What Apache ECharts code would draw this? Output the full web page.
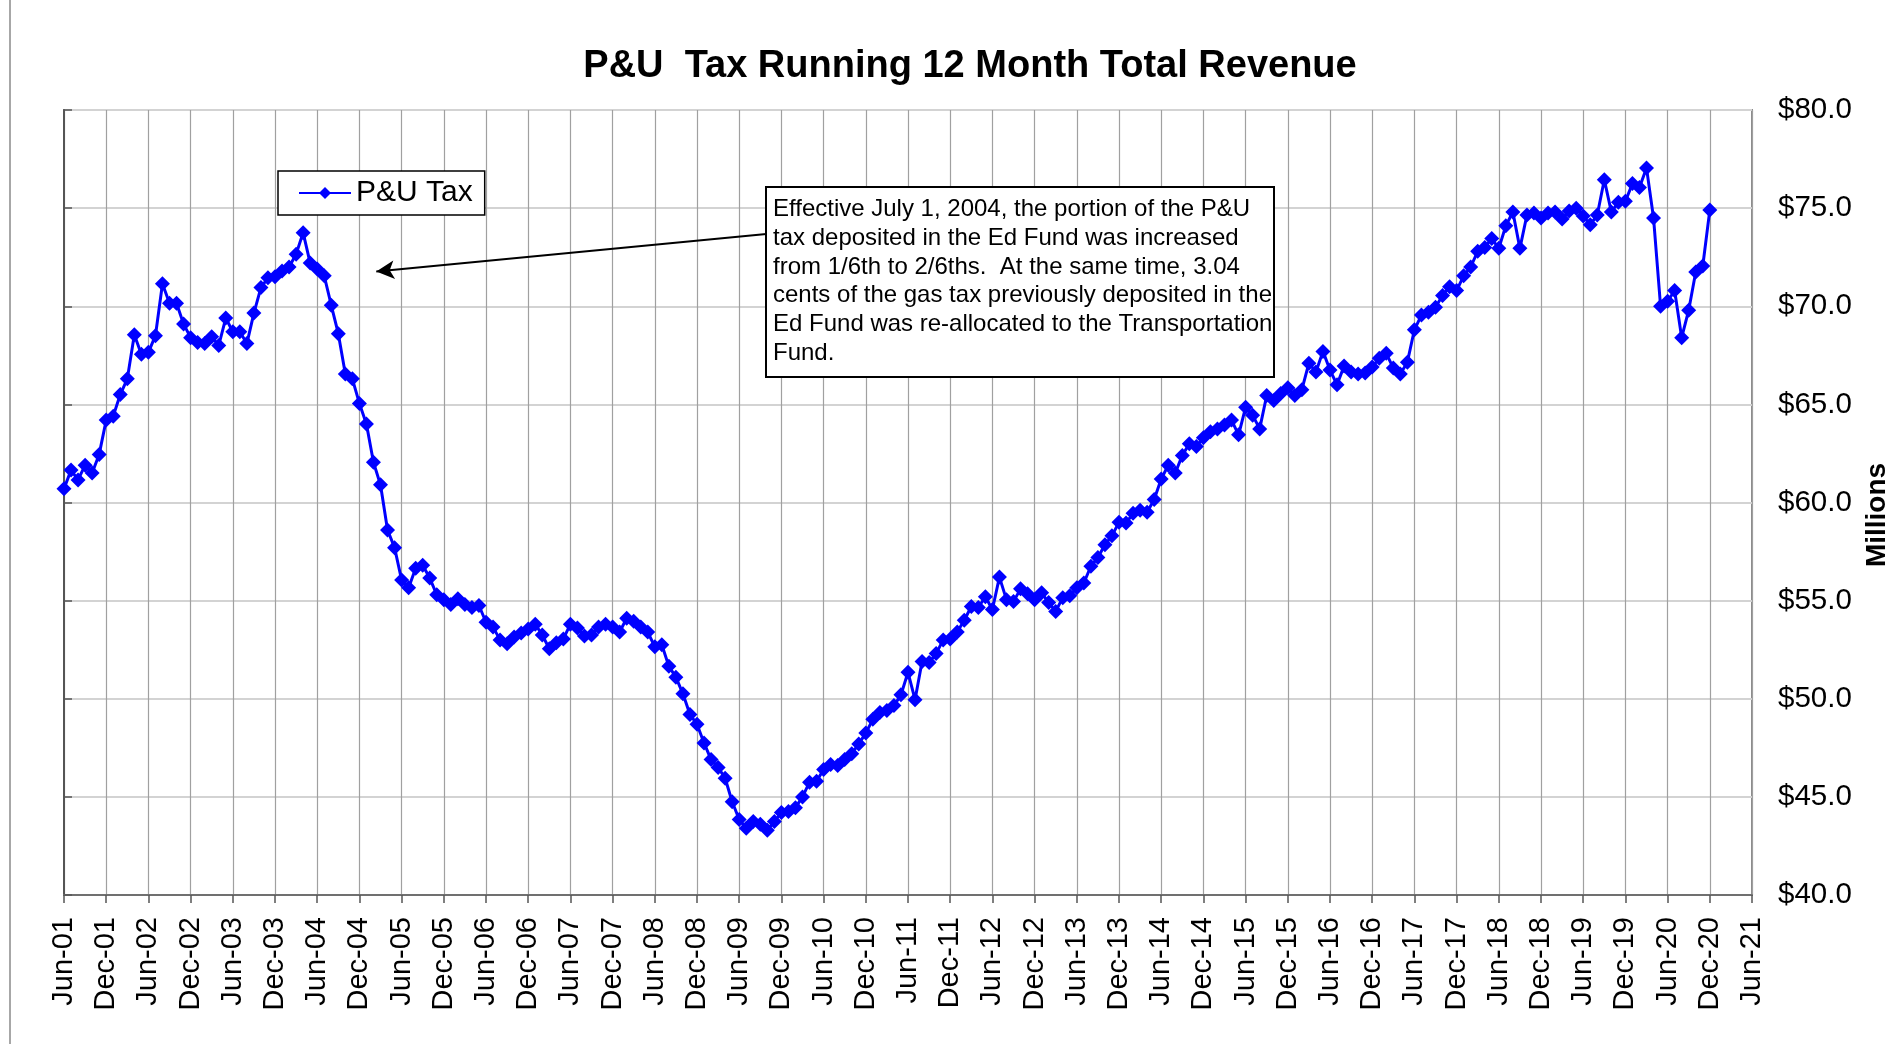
<!DOCTYPE html>
<html>
<head>
<meta charset="utf-8">
<title>P&U Tax Running 12 Month Total Revenue</title>
<script src="https://cdn.jsdelivr.net/npm/echarts@6/dist/echarts.min.js"></script>
<style>
  html, body { margin: 0; padding: 0; background: #fff; }
  #echart { width: 1900px; height: 1044px; }
</style>
</head>
<body>
<div id="echart"></div>
<script>
// tick labels, one every 6 months starting Jun-01
let xTickLabels = [
  'Jun-01','Dec-01','Jun-02','Dec-02','Jun-03','Dec-03','Jun-04','Dec-04',
  'Jun-05','Dec-05','Jun-06','Dec-06','Jun-07','Dec-07','Jun-08','Dec-08',
  'Jun-09','Dec-09','Jun-10','Dec-10','Jun-11','Dec-11','Jun-12','Dec-12',
  'Jun-13','Dec-13','Jun-14','Dec-14','Jun-15','Dec-15','Jun-16','Dec-16',
  'Jun-17','Dec-17','Jun-18','Dec-18','Jun-19','Dec-19','Jun-20','Dec-20','Jun-21'
];

// running 12 month total, $ millions, monthly from Jun-01 to Dec-20
let revenue = [
  60.7, 61.65, 61.15, 61.9, 61.5, 62.45, 64.2, 64.4, 65.5, 66.3, 68.55, 67.55,   // Jun01-May02
  67.65, 68.5, 71.15, 70.15, 70.15, 69.1, 68.4, 68.15, 68.1, 68.45, 68.0, 69.4, // Jun02-May03
  68.7, 68.7, 68.1, 69.65, 70.95, 71.45, 71.5, 71.8, 72.0, 72.65, 73.75, 72.2,  // Jun03-May04
  71.9, 71.55, 70.05, 68.6, 66.55, 66.3, 65.05, 64.0, 62.05, 60.9, 58.6, 57.7,  // Jun04-May05
  56.05, 55.65, 56.65, 56.8, 56.15, 55.3, 55.05, 54.8, 55.1, 54.8, 54.65, 54.75,
  53.9, 53.65, 53.0, 52.8, 53.15, 53.35, 53.55, 53.8, 53.25, 52.55, 52.85, 53.05,
  53.8, 53.6, 53.2, 53.25, 53.65, 53.8, 53.65, 53.4, 54.1, 53.95, 53.65, 53.4,
  52.65, 52.75, 51.65, 51.1, 50.25, 49.2, 48.7, 47.75, 46.9, 46.5, 45.95, 44.75,
  43.85, 43.4, 43.75, 43.6, 43.3, 43.75, 44.2, 44.25, 44.45, 45.0, 45.75, 45.8,
  46.4, 46.65, 46.6, 46.9, 47.2, 47.7, 48.25, 48.95, 49.3, 49.4, 49.65, 50.2,
  51.35, 49.95, 51.9, 51.85, 52.3, 53.0, 53.05, 53.4, 54.0, 54.7, 54.65, 55.2,
  54.55, 56.2, 55.05, 54.95, 55.6, 55.35, 55.05, 55.4, 54.9, 54.45, 55.15, 55.25,
  55.65, 55.9, 56.75, 57.2, 57.85, 58.3, 59.0, 58.95, 59.45, 59.6, 59.5, 60.15,
  61.2, 61.9, 61.5, 62.4, 63.0, 62.85, 63.3, 63.6, 63.75, 63.95, 64.2, 63.45,
  64.85, 64.45, 63.75, 65.45, 65.2, 65.55, 65.85, 65.45, 65.75, 67.1, 66.65, 67.7,
  66.75, 66.0, 66.95, 66.65, 66.55, 66.6, 66.9, 67.35, 67.6, 66.85, 66.55, 67.15,
  68.8, 69.55, 69.7, 69.95, 70.55, 71.0, 70.8, 71.55, 72.0, 72.8, 73.0, 73.45,
  72.95, 74.1, 74.8, 72.95, 74.65, 74.75, 74.5, 74.75, 74.8, 74.45, 74.85, 75.0,
  74.6, 74.15, 74.65, 76.45, 74.8, 75.3, 75.35, 76.25, 76.05, 77.05, 74.5, 70.0,
  70.25, 70.8, 68.4, 69.8, 71.75, 72.05, 74.9                                   // Jun20-Dec20
];

let noteLines = [
  'Effective July 1, 2004, the portion of the P&U',
  'tax deposited in the Ed Fund was increased',
  'from 1/6th to 2/6ths.  At the same time, 3.04',
  'cents of the gas tax previously deposited in the',
  'Ed Fund was re-allocated to the Transportation',
  'Fund.'
];

// arrow from the note box to the Jul-04 drop (month index, $M)
let arrowFrom = [99.86, 73.68];
let arrowTo = [44.4, 71.77];

let FONT = '"Liberation Sans", Arial, sans-serif';

let seriesData = revenue.map(function (v, i) { return [i, v]; });

let option = {
  backgroundColor: '#fff',
  animation: false,
  grid: {
    left: 64, right: 148, top: 110, bottom: 149,
    show: true, borderColor: '#8c8c8c', borderWidth: 2,
    containLabel: false, outerBoundsMode: 'none'
  },
  legend: {
    left: 278, top: 171,
    padding: [7, 12, 7, 20],
    itemWidth: 52, itemHeight: 15, itemGap: 6,
    backgroundColor: '#fff',
    borderColor: '#000', borderWidth: 1.5,
    textStyle: { fontFamily: FONT, fontSize: 30, color: '#000' },
    data: ['P&U Tax']
  },
  xAxis: {
    type: 'value',
    min: 0, max: 240, interval: 6,
    axisLine: { show: true, lineStyle: { color: '#707070', width: 2 } },
    axisTick: { show: true, inside: false, length: 8, lineStyle: { color: '#555', width: 1.5 } },
    axisLabel: {
      rotate: 90, margin: 22,
      fontFamily: FONT, fontSize: 29, color: '#000',
      formatter: function (v) { return xTickLabels[Math.round(v / 6)] || ''; }
    },
    splitLine: { show: true, lineStyle: { color: '#a0a0a0', width: 1.2 } }
  },
  yAxis: {
    type: 'value',
    position: 'right',
    min: 40, max: 80, interval: 5,
    axisLine: { show: true, lineStyle: { color: '#555', width: 2 } },
    axisTick: { show: true, inside: false, length: 8, lineStyle: { color: '#555', width: 1.5 } },
    axisLabel: {
      margin: 26,
      fontFamily: FONT, fontSize: 29.5, color: '#000',
      formatter: function (v) { return '$' + v.toFixed(1); }
    },
    splitLine: { show: true, lineStyle: { color: '#d3d3d3', width: 2 } }
  },
  series: [{
    name: 'P&U Tax',
    type: 'line',
    data: seriesData,
    symbol: 'diamond',
    symbolSize: 15,
    showAllSymbol: true,
    lineStyle: { color: '#0000ff', width: 3 },
    itemStyle: { color: '#0000ff' },
    z: 5,
    markLine: {
      silent: true,
      symbol: ['none', 'arrow'],
      symbolSize: [14, 18],
      label: { show: false },
      lineStyle: { color: '#000', width: 2, type: 'solid' },
      data: [[{ coord: arrowFrom }, { coord: arrowTo }]]
    }
  }],
  graphic: [
    {
      // left edge of the chart frame
      type: 'line', silent: true, z: -1,
      shape: { x1: 10, y1: 0, x2: 10, y2: 1044 },
      style: { stroke: '#8a8a8a', lineWidth: 1.5 }
    },
    {
      type: 'text', silent: true,
      x: 970, y: 67,
      style: {
        text: 'P&U  Tax Running 12 Month Total Revenue',
        fontFamily: FONT, fontSize: 38, fontWeight: 'bold', fill: '#000',
        textAlign: 'center', textVerticalAlign: 'middle'
      }
    },
    {
      type: 'text', silent: true,
      x: 1877, y: 515, rotation: Math.PI / 2,
      style: {
        text: 'Millions',
        fontFamily: FONT, fontSize: 28, fontWeight: 'bold', fill: '#000',
        textAlign: 'center', textVerticalAlign: 'middle'
      }
    },
    {
      type: 'rect', silent: true, z: 100,
      shape: { x: 766, y: 187, width: 508, height: 190 },
      style: { fill: '#fff', stroke: '#000', lineWidth: 2 }
    },
    {
      type: 'text', silent: true, z: 101,
      x: 773, y: 195,
      style: {
        text: noteLines.join('\n'),
        fontFamily: FONT, fontSize: 24, lineHeight: 28.8, fill: '#000',
        textAlign: 'left', textVerticalAlign: 'top'
      }
    }
  ]
};

let myChart = echarts.init(document.getElementById('echart'));
myChart.setOption(option);
</script>
</body>
</html>
